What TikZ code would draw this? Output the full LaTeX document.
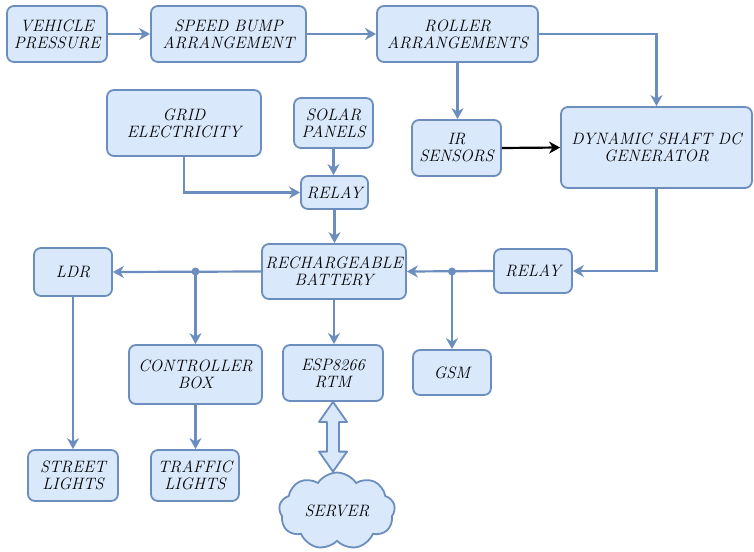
\documentclass[tikz,border=0pt]{standalone}
\usetikzlibrary{arrows.meta,shapes.symbols,calc}
\definecolor{boxfill}{HTML}{DAE8FC}
\definecolor{boxline}{HTML}{6C8EBF}
\tikzset{
  blk/.style={draw=boxline, fill=boxfill, line width=1.8pt, rounded corners=7pt,
    align=center, inner sep=1pt, font=\fontsize{16.5}{17}\selectfont\itshape},
  flow/.style={draw=boxline, line width=2.2pt, -{Stealth[length=11pt,width=12pt,inset=3.5pt]}},
  jdot/.style={circle, fill=boxline, inner sep=0pt, minimum size=8pt},
}
\begin{document}
\begin{tikzpicture}[x=1pt, y=-1pt]
  \useasboundingbox (0,0) rectangle (754,551);

  % top row
  \node[blk, minimum width=100pt, minimum height=56pt] (veh) at (57,34) {VEHICLE\\PRESSURE};
  \node[blk, minimum width=155pt, minimum height=56pt] (bump) at (228.5,34) {SPEED BUMP\\ARRANGEMENT};
  \node[blk, minimum width=161pt, minimum height=56pt] (roller) at (457.5,34) {ROLLER\\ARRANGEMENTS};

  % supply side
  \node[blk, minimum width=154pt, minimum height=66pt] (grid) at (184,123) {GRID\\ELECTRICITY};
  \node[blk, minimum width=79pt, minimum height=50pt] (solar) at (333.5,123) {SOLAR\\PANELS};
  \node[blk, minimum width=67pt, minimum height=33pt] (relayA) at (334.5,192.5) {RELAY};
  \node[blk, minimum width=89pt, minimum height=56pt] (ir) at (456.5,148) {IR\\SENSORS};
  \node[blk, minimum width=191pt, minimum height=81pt] (gen) at (656.5,147.5) {DYNAMIC SHAFT DC\\GENERATOR};

  % battery row
  \node[blk, minimum width=144pt, minimum height=55pt] (batt) at (334,271.5) {RECHARGEABLE\\BATTERY};
  \node[blk, minimum width=78pt, minimum height=44pt] (relayB) at (533,271) {RELAY};
  \node[blk, minimum width=78pt, minimum height=48pt] (ldr) at (73,272) {LDR};

  % loads
  \node[blk, minimum width=133pt, minimum height=59pt] (ctrl) at (195.5,374.5) {CONTROLLER\\BOX};
  \node[blk, minimum width=100pt, minimum height=56pt] (esp) at (333,373) {ESP8266\\RTM};
  \node[blk, minimum width=78pt, minimum height=45pt] (gsm) at (452,372.5) {GSM};
  \node[blk, minimum width=90pt, minimum height=51pt] (street) at (73,475.5) {STREET\\LIGHTS};
  \node[blk, minimum width=88pt, minimum height=51pt] (traffic) at (195,475.5) {TRAFFIC\\LIGHTS};
  \node[blk, cloud, cloud puffs=9, cloud puff arc=115, aspect=1.5, rounded corners=0pt,
    minimum width=116pt, minimum height=76pt] (srv) at (337,511) {SERVER};

  \coordinate (jl) at (ctrl.north |- batt.west);
  \coordinate (jr) at (gsm.north |- batt.east);

  \draw[flow] (veh.east) -- (bump.west);
  \draw[flow] (bump.east) -- (roller.west);
  \draw[flow] (roller.east) -| (gen.north);
  \draw[flow] (roller.south) -- (roller.south |- ir.north);
  \draw[flow, draw=black] (ir.east) -- (gen.west);

  \draw[flow] (grid.south) |- (relayA.west);
  \draw[flow] (solar.south) -- (solar.south |- relayA.north);
  \draw[flow] (relayA.south) -- (relayA.south |- batt.north);

  \draw[flow] (gen.south) |- (relayB.east);
  \draw[flow] (relayB.west) -- (batt.east);
  \draw[flow] (jr) -- (jr |- gsm.north);
  \node[jdot] at (jr) {};

  \draw[flow] (batt.west) -- (ldr.east);
  \draw[flow] (jl) -- (ctrl.north);
  \node[jdot] at (jl) {};

  \draw[flow] (batt.south) -- (batt.south |- esp.north);
  \draw[flow] (ctrl.south) -- (ctrl.south |- traffic.north);
  \draw[flow] (ldr.south) -- (street.north);

  % double arrow ESP <-> server
  \coordinate (a) at (esp.south);
  \coordinate (b) at (esp.south |- srv.north);
  \draw[draw=boxline, fill=boxfill, line width=1.8pt, line join=round]
    (a) -- ++(14,20) -- ++(-8,0) -- ($(b)+(6,-20)$) -- ++(8,0) -- (b)
    -- ++(-14,-20) -- ++(8,0) -- ($(a)+(-6,20)$) -- ++(-8,0) -- cycle;
\end{tikzpicture}
\end{document}
